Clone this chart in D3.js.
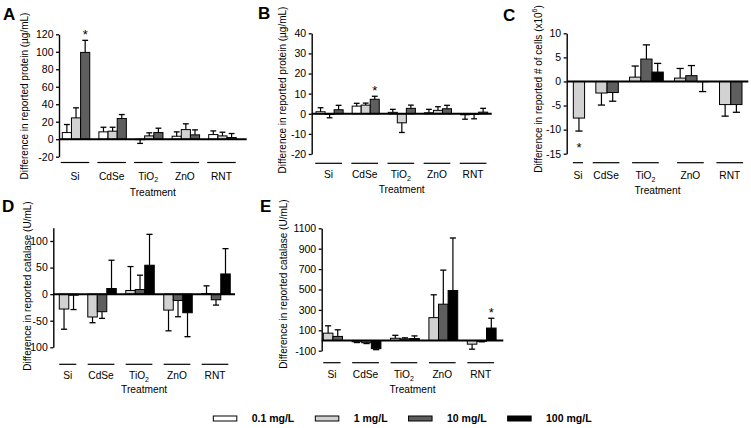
<!DOCTYPE html>
<html><head><meta charset="utf-8">
<script src="https://cdn.jsdelivr.net/npm/d3@7"></script>
<style>
body{margin:0;background:#fff;}
svg{display:block;font-family:"Liberation Sans",Arial,sans-serif;}
</style></head><body>
<svg id="chart" width="751" height="428"></svg>
<script>
// ---------- data ----------
const categories = ["Si", "CdSe", "TiO2", "ZnO", "RNT"];
const doses = ["0.1 mg/L", "1 mg/L", "10 mg/L", "100 mg/L"];

// rows = doses (0.1, 1, 10, 100 mg/L), columns = categories; null = not shown
const meanA = [[7.6, 8.4, -0.5, 3.4, 5.3], [24.4, 9.2, 3.8, 11.0, 3.8], [99.3, 23.7, 7.6, 5.0, 1.9], [null, null, null, null, null]];
const errA  = [[9.2, 5.3, 4.3, 5.0, 4.2], [11.5, 4.5, 3.5, 6.6, 4.2], [13.8, 4.5, 5.0, 5.7, 4.6], [null, null, null, null, null]];
const ticksA = [-20, 0, 20, 40, 60, 80, 100, 120];
const sigA = [["Si", "10 mg/L"]];

const meanB = [[1.0, 3.8, 0.7, 0.5, -0.5], [-0.3, 4.3, -4.5, 1.7, -0.3], [2.0, 7.2, 2.7, 2.5, 0.8], [null, null, null, null, null]];
const errB  = [[2.0, 1.4, 1.5, 1.7, 2.2], [1.7, 1.0, 4.8, 1.8, 2.2], [2.2, 1.5, 1.6, 1.7, 1.9], [null, null, null, null, null]];
const ticksB = [-20, -10, 0, 10, 20, 30, 40];
const sigB = [["CdSe", "10 mg/L"]];

const meanC = [[null, null, null, null, null], [-7.6, -2.4, 0.9, 0.7, -4.8], [null, -2.3, 4.65, 1.2, -4.8], [null, null, 1.95, -0.05, null]];
const errC  = [[null, null, null, null, null], [2.7, 2.5, 2.3, 2.0, 2.4], [null, 1.8, 2.95, 2.1, 1.6], [null, null, 1.8, 2.05, null]];
const ticksC = [-15, -10, -5, 0, 5, 10];
const sigC = [["Si", "1 mg/L"]];

const meanD = [[null, null, null, null, null], [-28, -43, 6.9, -30, 1], [-2, -33, 8.75, -11.9, -10.6], [null, 10.6, 54.4, -35, 38]];
const errD  = [[null, null, null, null, null], [38, 10.8, 45, 39, 14.6], [27, 12.6, 26.9, 30.6, 10], [null, 53.2, 58.1, 45, 47.6]];
const ticksD = [-100, -50, 0, 50, 100];
const sigD = [];

const meanE = [[null, null, null, null, null], [72, -12, 22, 224, -36], [40, -22, 16, 356, -8], [null, -80, 19, 490, 122]];
const errE  = [[null, null, null, null, null], [72, 8, 29, 224, 49], [65, 8, 10, 334, 5], [null, 10, 26, 515, 96]];
const ticksE = [-100, 100, 300, 500, 700, 900, 1100];
const sigE = [["RNT", "100 mg/L"]];

// ---------- styles / layout ----------
const doseFill = ["#ffffff", "#d2d2d2", "#5e5e5e", "#000000"];

const panels = [
  {letter: "A", mean: meanA, err: errA, ticks: ticksA, sig: sigA, yDomain: [-20, 120],
   title: [["Difference in reported protein (µg/mL)"]],
   L: {axisX: 59, right: 246.7, padL: 0.36, padR: 1.15, yBot: 156.7, yTop: 34.3, underY: 162.5, labelY: 179.5, treatY: 196, titleX: 24, titleY: 96, letterX: 3, letterY: 20, underLen: 28.5}},
  {letter: "B", mean: meanB, err: errB, ticks: ticksB, sig: sigB, yDomain: [-20, 40],
   title: [["Difference in reported protein (µg/mL)"]],
   L: {axisX: 311.7, right: 491.7, padL: 0.48, padR: 0.45, yBot: 154, yTop: 33.3, underY: 163.3, labelY: 178, treatY: 192.5, titleX: 282, titleY: 90, letterX: 258, letterY: 18.5, underLen: 26.7}},
  {letter: "C", mean: meanC, err: errC, ticks: ticksC, sig: sigC, yDomain: [-15, 10],
   title: [["Difference in reported # of cells (x10"], ["6", "sup"], [")"]],
   L: {axisX: 566.7, right: 748.3, padL: 0.59, padR: 0.56, yBot: 153.7, yTop: 33.3, underY: 162.7, labelY: 179, treatY: 193.5, titleX: 538, titleY: 89, letterX: 503, letterY: 20.5, underLen: 26.7}},
  {letter: "D", mean: meanD, err: errD, ticks: ticksD, sig: sigD, yDomain: [-100, 125],
   title: [["Difference in reported catalase (U/mL)"]],
   L: {axisX: 53.3, right: 235, padL: 0.63, padR: 0.5, yBot: 347.3, yTop: 227.7, underY: 364.3, labelY: 379, treatY: 392.5, titleX: 27, titleY: 286, letterX: 2, letterY: 211.7, underLen: 26.7}},
  {letter: "E", mean: meanE, err: errE, ticks: ticksE, sig: sigE, yDomain: [-100, 1100],
   title: [["Difference in reported catalase (U/mL)"]],
   L: {axisX: 321.7, right: 503.3, padL: 0.17, padR: 0.75, yBot: 350.7, yTop: 228.3, underY: 362.7, labelY: 378, treatY: 392.5, titleX: 283, titleY: 284, letterX: 260, letterY: 211.7, underLen: 26.7}}
];

const svg = d3.select("#chart");

function catLabel(sel, name) {
  if (name === "TiO2") {
    sel.append("tspan").text("TiO");
    sel.append("tspan").attr("dy", 2.5).attr("font-size", 7).text("2");
  } else sel.text(name);
}

panels.forEach(p => {
  const L = p.L;
  const g = svg.append("g");
  // sequential slot layout: bars of a group adjacent, one empty slot between groups
  const bars = [], groups = [];
  let s = 0;
  categories.forEach((c, ci) => {
    const start = s;
    doses.forEach((d, di) => {
      const v = p.mean[di][ci];
      if (v !== null) { bars.push({ci, di, v, e: p.err[di][ci], slot: s}); s++; }
    });
    groups.push({ci, name: c, start, n: s - start});
    s++;
  });
  const total = s - 1;
  const x = d3.scaleLinear().domain([-L.padL, total + L.padR]).range([L.axisX, L.right]);
  const y = d3.scaleLinear().domain(p.yDomain).range([L.yBot, L.yTop]);
  const slotW = x(1) - x(0);

  // bars
  g.selectAll("rect.bar").data(bars).join("rect")
    .attr("x", d => x(d.slot)).attr("width", slotW)
    .attr("y", d => y(Math.max(0, d.v))).attr("height", d => Math.abs(y(d.v) - y(0)))
    .attr("fill", d => doseFill[d.di]).attr("stroke", "#000").attr("stroke-width", 1);

  // error bars
  const eb = g.selectAll("g.err").data(bars).join("g");
  const endOf = d => d.v + (d.v >= 0 ? 1 : -1) * d.e;
  eb.append("line")
    .attr("x1", d => x(d.slot + 0.5)).attr("x2", d => x(d.slot + 0.5))
    .attr("y1", d => y(d.v)).attr("y2", d => y(endOf(d)))
    .attr("stroke", "#000").attr("stroke-width", 1.2);
  eb.append("line")
    .attr("x1", d => x(d.slot + 0.5) - slotW * 0.32).attr("x2", d => x(d.slot + 0.5) + slotW * 0.32)
    .attr("y1", d => y(endOf(d))).attr("y2", d => y(endOf(d)))
    .attr("stroke", "#000").attr("stroke-width", 1.3);

  // zero line
  g.append("line").attr("x1", L.axisX).attr("x2", L.right).attr("y1", y(0)).attr("y2", y(0))
    .attr("stroke", "#000").attr("stroke-width", 2);

  // y axis
  const ax = g.append("g").attr("transform", `translate(${L.axisX},0)`)
    .call(d3.axisLeft(y).tickValues(p.ticks).tickFormat(d => String(d))
      .tickSize(3).tickSizeOuter(0).tickPadding(2.5));
  ax.select(".domain").attr("stroke-width", 1.4);
  ax.selectAll(".tick line").attr("stroke-width", 1.3);
  ax.selectAll(".tick text").attr("font-size", 10.5).attr("fill", "#000")
    .attr("font-family", "Liberation Sans, Arial, sans-serif");

  // group underlines + labels
  groups.forEach(gr => {
    const cx = x(gr.start + gr.n / 2) - 1;
    const w = gr.n * slotW < 0.8 * L.underLen ? gr.n * slotW * 0.9 : L.underLen;
    g.append("line").attr("x1", cx - w / 2).attr("x2", cx + w / 2)
      .attr("y1", L.underY).attr("y2", L.underY).attr("stroke", "#000").attr("stroke-width", 1.2);
    const t = g.append("text").attr("x", cx).attr("y", L.labelY).attr("text-anchor", "middle")
      .attr("font-size", 10.2);
    catLabel(t, gr.name);
  });

  // x title
  g.append("text").attr("x", (L.axisX + L.right) / 2).attr("y", L.treatY).attr("text-anchor", "middle")
    .attr("font-size", 10.2).text("Treatment");

  // y title
  const yt = g.append("text").attr("transform", `translate(${L.titleX},${L.titleY}) rotate(-90)`)
    .attr("text-anchor", "middle").attr("dominant-baseline", "central").attr("font-size", 10);
  p.title.forEach(part => {
    if (part[1] === "sup") yt.append("tspan").attr("dy", -4).attr("font-size", 7).text(part[0]);
    else yt.append("tspan").attr("dy", p.title.length > 1 && part[0] === ")" ? 4 : 0).text(part[0]);
  });

  // significance asterisks
  p.sig.forEach(([c, d]) => {
    const b = bars.find(bb => categories[bb.ci] === c && doses[bb.di] === d);
    const end = y(endOf(b));
    const cy = b.v >= 0 ? end - 9 : end + 13;
    g.append("text").attr("x", x(b.slot + 0.5)).attr("y", cy + 7.5).attr("text-anchor", "middle")
      .attr("font-size", 13).text("*");
  });

  // panel letter
  g.append("text").attr("x", L.letterX).attr("y", L.letterY).attr("font-size", 17)
    .attr("font-weight", "bold").text(p.letter);
});

// legend
const lg = svg.append("g");
let lx = 213.3;
doses.forEach((d, i) => {
  lg.append("rect").attr("x", lx).attr("y", 416).attr("width", 23.5).attr("height", 5)
    .attr("fill", doseFill[i]).attr("stroke", "#000").attr("stroke-width", 1);
  const t = lg.append("text").attr("x", lx + 38.4).attr("y", 421.7).attr("font-size", 10.5)
    .attr("font-weight", "bold").text(d);
  lx = lx + 38.4 + t.node().getComputedTextLength() + 21;
});
</script>
</body></html>
